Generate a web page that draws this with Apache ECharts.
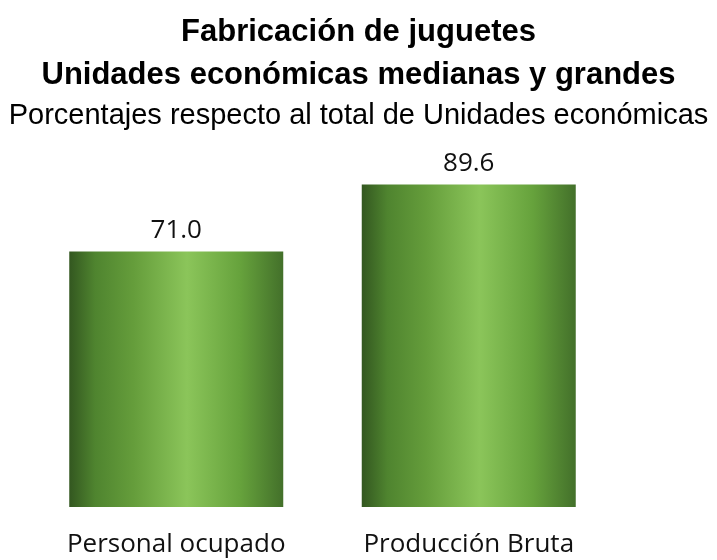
<!DOCTYPE html>
<html>
<head>
<meta charset="utf-8">
<script src="https://cdn.jsdelivr.net/npm/echarts@6/dist/echarts.min.js"></script>
<style>html,body{margin:0;padding:0;background:#fff}#c{width:717px;height:560px}</style>
</head>
<body>
<div id="c"></div>
<script>
var categories = ['Personal ocupado', 'Producción Bruta'];
var values = [71.0, 89.6];
var titleLines = ['Fabricación de juguetes', 'Unidades económicas medianas y grandes'];
var subtitleText = 'Porcentajes respecto al total de Unidades económicas';

var chart = echarts.init(document.getElementById('c'));
var grad = new echarts.graphic.LinearGradient(0, 0, 1, 0, [
  {offset: 0, color: '#335720'},
  {offset: 0.12, color: '#4f842f'},
  {offset: 0.3, color: '#659d3b'},
  {offset: 0.55, color: '#8bc55a'},
  {offset: 0.8, color: '#66a23c'},
  {offset: 1, color: '#43702a'}
]);
chart.setOption({
  backgroundColor: '#fff',
  title: [
    {text: titleLines[0], left: 'center', top: 12, textStyle: {fontFamily: 'Liberation Sans', fontWeight: 'bold', fontSize: 31, color: '#000'}},
    {text: titleLines[1], left: 'center', top: 55, textStyle: {fontFamily: 'Liberation Sans', fontWeight: 'bold', fontSize: 31, color: '#000'}},
    {text: subtitleText, left: 'center', top: 96, textStyle: {fontFamily: 'Liberation Sans', fontWeight: 'normal', fontSize: 29, color: '#000'}}
  ],
  grid: {left: 30, width: 585, top: 147, bottom: 53},
  xAxis: {
    type: 'category', data: categories,
    axisLine: {show: false}, axisTick: {show: false},
    axisLabel: {interval: 0, margin: 25, fontFamily: 'Open Sans', fontSize: 26, color: '#111'}
  },
  yAxis: {type: 'value', min: 0, max: 100, show: false, splitLine: {show: false}},
  series: [{
    type: 'bar', data: values, barWidth: 214,
    itemStyle: {color: grad},
    label: {show: true, position: 'top', distance: 8, fontFamily: 'Open Sans', fontSize: 26, color: '#111',
      formatter: function (p) { return p.value.toFixed(1); }}
  }]
});
</script>
</body>
</html>
